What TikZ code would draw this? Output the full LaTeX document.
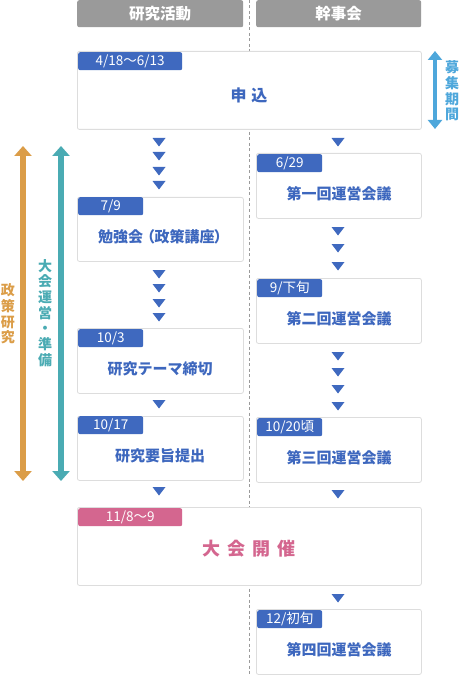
\documentclass[tikz,border=0pt]{standalone}
\usepackage{fontspec}
\setmainfont{Noto Sans CJK JP}
\newfontfamily\jp{Noto Sans CJK JP}
\usetikzlibrary{arrows.meta}
\definecolor{tagblue}{HTML}{3F69BF}
\definecolor{txtblue}{HTML}{3D67BE}
\definecolor{tagpink}{HTML}{D4668F}
\definecolor{hdrgray}{HTML}{9A9A9A}
\definecolor{boxline}{HTML}{DDDDDD}
\definecolor{orng}{HTML}{DB9D48}
\definecolor{teal}{HTML}{4AABB3}
\definecolor{ltblue}{HTML}{4EA7DB}
\newcommand\proppar[1]{{\addfontfeatures{RawFeature=+palt}#1}}
\tikzset{
  hdr/.style={fill=hdrgray, rounded corners=2pt, minimum width=166pt, minimum height=27pt, anchor=north west, inner sep=0pt, text=white, font=\jp\bfseries\fontsize{15.5pt}{17pt}\selectfont},
  panel/.style={draw=boxline, line width=0.8pt, fill=white, rounded corners=2pt, anchor=north west, inner sep=0pt},
  tagbox/.style={fill=#1, rounded corners=2pt, anchor=north west, minimum height=18pt, inner sep=0pt, text=white, font=\jp\fontsize{13.5pt}{14pt}\selectfont},
  maintxt/.style={text=txtblue, font=\jp\bfseries\fontsize{15pt}{16pt}\selectfont, inner sep=0pt},
  vtxt/.style={align=center, inner sep=0pt, font=\jp\bfseries\fontsize{14pt}{15.7pt}\selectfont},
  sidearrow/.style={line width=6pt, {Triangle[width=17pt,length=10pt]}-{Triangle[width=17pt,length=10pt]}},
  downtri/.pic={\fill[tagblue] (-6.5,-4) -- (6.5,-4) -- (0,4.5) -- cycle;}
}
\begin{document}
\begin{tikzpicture}[x=1pt,y=-1pt]
\useasboundingbox (0,0) rectangle (460,676);
% center dashed line
\draw[hdrgray, dashed, dash pattern=on 3pt off 2.5pt, line width=0.7pt] (249,0) coordinate (dtop) -- (249,676) coordinate (dbot);
% headers
\node[hdr] (h1) at (77,0) {研究活動};
\node[hdr, minimum width=165pt] (h2) at (256,0) {幹事会};
% application box
\node[panel, minimum width=344pt, minimum height=78pt] (apply) at (77,51) {};
\node[tagbox=tagblue, minimum width=104pt] (tapply) at (78,52) {4/18〜6/13};
\node[maintxt, font=\jp\bfseries\fontsize{16pt}{18pt}\selectfont] (lapply) at (249,95) {申\hspace{5pt}込};
% left column
\node[panel, minimum width=166pt, minimum height=64pt] (l1) at (77,197) {};
\node[tagbox=tagblue, minimum width=65pt] (tl1) at (78,197) {7/9};
\node[maintxt] (xl1) at (160,237) {勉強会\hspace{4pt}\proppar{（}政策講座\proppar{）}};
\node[panel, minimum width=166pt, minimum height=65pt] (l2) at (77,328) {};
\node[tagbox=tagblue, minimum width=65pt] (tl2) at (78,329) {10/3};
\node[maintxt] (xl2) at (160,369) {研究テーマ締切};
\node[panel, minimum width=166pt, minimum height=64pt] (l3) at (77,416) {};
\node[tagbox=tagblue, minimum width=65pt] (tl3) at (78,416) {10/17};
\node[maintxt] (xl3) at (160,456) {研究要旨提出};
% right column
\node[panel, minimum width=165pt, minimum height=65pt] (r1) at (256,153) {};
\node[tagbox=tagblue, minimum width=65pt] (tr1) at (257,154) {6/29};
\node[maintxt] (xr1) at (339,194) {第一回運営会議};
\node[panel, minimum width=165pt, minimum height=65pt] (r2) at (256,278) {};
\node[tagbox=tagblue, minimum width=65pt] (tr2) at (257,279) {9/下旬};
\node[maintxt] (xr2) at (339,319) {第二回運営会議};
\node[panel, minimum width=165pt, minimum height=65pt] (r3) at (256,417) {};
\node[tagbox=tagblue, minimum width=65pt] (tr3) at (257,418) {10/20頃};
\node[maintxt] (xr3) at (339,458) {第三回運営会議};
% convention box
\node[panel, minimum width=344pt, minimum height=78pt] (conv) at (77,507) {};
\node[tagbox=tagpink, minimum width=104pt] (tconv) at (78,508) {11/8〜9};
\node[maintxt, text=tagpink, font=\jp\bfseries\fontsize{18pt}{20pt}\selectfont] (lconv) at (249,549) {大\hspace{7pt}会\hspace{7pt}開\hspace{7pt}催};
\node[panel, minimum width=165pt, minimum height=65pt] (r4) at (256,609) {};
\node[tagbox=tagblue, minimum width=65pt] (tr4) at (257,610) {12/初旬};
\node[maintxt] (xr4) at (339,650) {第四回運営会議};
% triangles left
\foreach \y in {142,156,171,185,274,288,303,317,404,491} \pic at (159,\y) {downtri};
% triangles right
\foreach \y in {142,231,248,266,356,372,389,406,494,598} \pic at (338,\y) {downtri};
% side arrows
\coordinate (oa) at (23,146); \coordinate (ob) at (23,481);
\coordinate (ta) at (61,146); \coordinate (tb) at (61,481);
\draw[sidearrow, orng] (oa) -- (ob);
\draw[sidearrow, teal] (ta) -- (tb);
\node[vtxt, text=orng] (vo) at (8,314) {政\\策\\研\\究};
\node[vtxt, text=teal] (vt) at (45,313) {大\\会\\運\\営\\・\\準\\備};
\coordinate (ba) at (435,51); \coordinate (bb) at (435,129);
\draw[line width=4pt, ltblue, {Triangle[width=14pt,length=9pt]}-{Triangle[width=14pt,length=9pt]}] (ba) -- (bb);
\node[vtxt, text=ltblue] (vb) at (452,91) {募\\集\\期\\間};
\end{tikzpicture}
\end{document}
